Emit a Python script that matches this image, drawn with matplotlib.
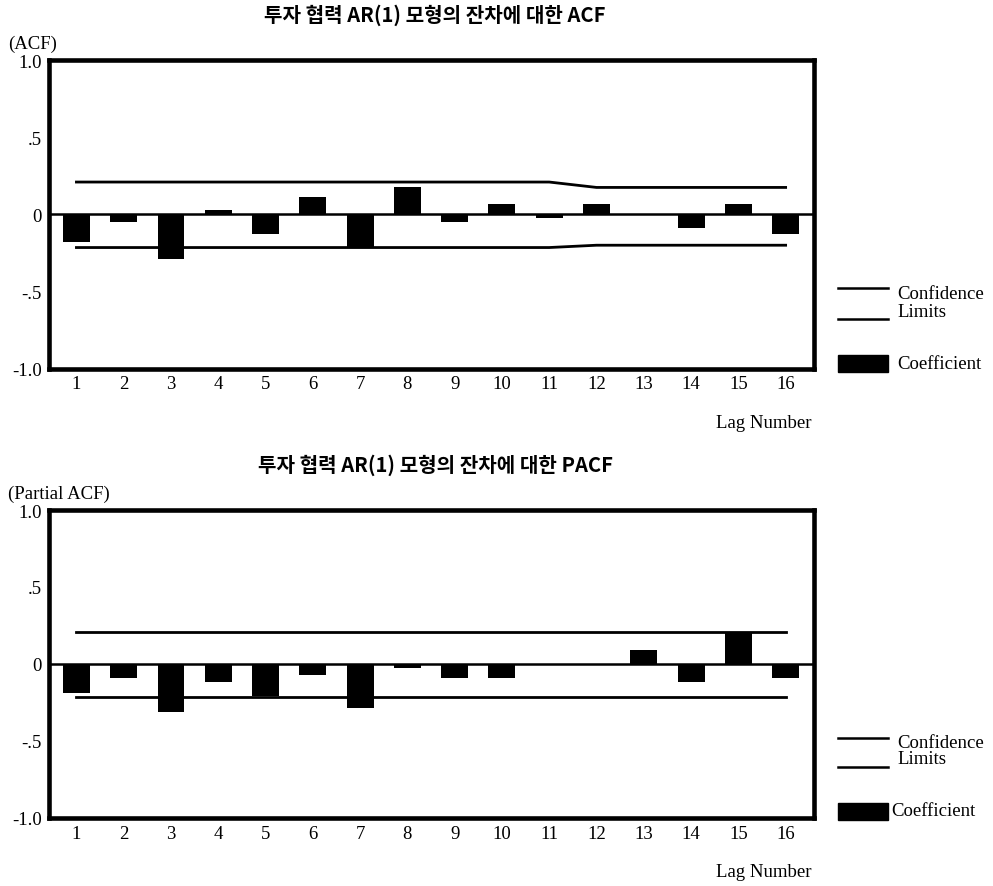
import matplotlib
matplotlib.use('Agg')
import matplotlib.pyplot as plt
from matplotlib.lines import Line2D
from matplotlib.patches import Rectangle

lags = list(range(1, 17))

acf = [-0.18, -0.05, -0.29, 0.03, -0.125, 0.11, -0.21, 0.175,
       -0.05, 0.07, -0.025, 0.07, 0.0, -0.09, 0.07, -0.125]
acf_upper = [0.21, 0.21, 0.21, 0.21, 0.21, 0.21, 0.21, 0.21,
             0.21, 0.21, 0.21, 0.175, 0.175, 0.175, 0.175, 0.175]
acf_lower = [-0.215, -0.215, -0.215, -0.215, -0.215, -0.215, -0.215, -0.215,
             -0.215, -0.215, -0.215, -0.2, -0.2, -0.2, -0.2, -0.2]

pacf = [-0.19, -0.09, -0.31, -0.115, -0.21, -0.07, -0.29, -0.03,
        -0.09, -0.09, 0.0, 0.0, 0.09, -0.12, 0.205, -0.09]
pacf_upper = [0.205] * 16
pacf_lower = [-0.215] * 16

ytick_vals = [-1.0, -0.5, 0.0, 0.5, 1.0]
ytick_labels = ['-1.0', '-.5', '0', '.5', '1.0']

titles = ['투자 협력 AR(1) 모형의 잔차에 대한 ACF', '투자 협력 AR(1) 모형의 잔차에 대한 PACF']
ylabels = ['(ACF)', '(Partial ACF)']

serif = 'Liberation Serif'
kr = ['Noto Sans CJK KR', 'DejaVu Sans']
fs = 13.5

fig = plt.figure(figsize=(9.93, 8.87), dpi=100)

W, H = 993.0, 887.0
# axes boxes in pixels: left, top, right, bottom
boxes = [(49, 61.3, 814, 369.5), (49, 511, 814, 818.7)]
series = [(acf, acf_upper, acf_lower), (pacf, pacf_upper, pacf_lower)]

for i, (box, (vals, up, lo)) in enumerate(zip(boxes, series)):
    l, t, r, b = box
    ax = fig.add_axes([l / W, 1 - b / H, (r - l) / W, (b - t) / H])
    ax.bar(lags, vals, width=0.57, color='black', zorder=2)
    ax.axhline(0, color='black', lw=1.8, zorder=3)
    ax.plot(lags, up, color='black', lw=2.0)
    ax.plot(lags, lo, color='black', lw=2.0)
    ax.set_xlim(0.42, 16.6)
    ax.set_ylim(-1, 1)
    ax.set_xticks(lags)
    ax.set_xticklabels([str(x) for x in lags], fontfamily=serif, fontsize=fs)
    ax.set_yticks(ytick_vals)
    ax.set_yticklabels(ytick_labels, fontfamily=serif, fontsize=fs)
    ax.tick_params(length=0, pad=5)
    for s in ax.spines.values():
        s.set_linewidth(3.3)

    fig.text(435 / W, 1 - (t - 46) / H, titles[i], ha='center', va='center',
             fontsize=14.5, fontweight='bold', family=kr)
    fig.text(8 / W, 1 - (t - 17) / H, ylabels[i], ha='left', va='center',
             fontfamily=serif, fontsize=fs)
    fig.text(812 / W, 1 - (b + 54) / H, 'Lag Number', ha='right', va='center',
             fontfamily=serif, fontsize=fs)

    # legend on the right
    y_up = t + 228
    y_lo = y_up + 31 if i == 0 else y_up + 29
    y_box = y_lo + 44
    fig.add_artist(Line2D([838 / W, 888 / W], [1 - y_up / H, 1 - y_up / H],
                          color='black', lw=1.8))
    fig.add_artist(Line2D([838 / W, 888 / W], [1 - y_lo / H, 1 - y_lo / H],
                          color='black', lw=1.8))
    fig.text(897 / W, 1 - (y_up + 5) / H, 'Confidence', ha='left', va='center',
             fontfamily=serif, fontsize=fs)
    fig.text(897 / W, 1 - (y_lo - 8) / H, 'Limits', ha='left', va='center',
             fontfamily=serif, fontsize=fs)
    fig.add_artist(Rectangle((838 / W, 1 - (y_box + 9) / H), 50 / W, 17 / H,
                             transform=fig.transFigure, color='black'))
    fig.text((897 if i == 0 else 891) / W, 1 - y_box / H, 'Coefficient',
             ha='left', va='center', fontfamily=serif, fontsize=fs)

fig.savefig('out.png', dpi=100)
